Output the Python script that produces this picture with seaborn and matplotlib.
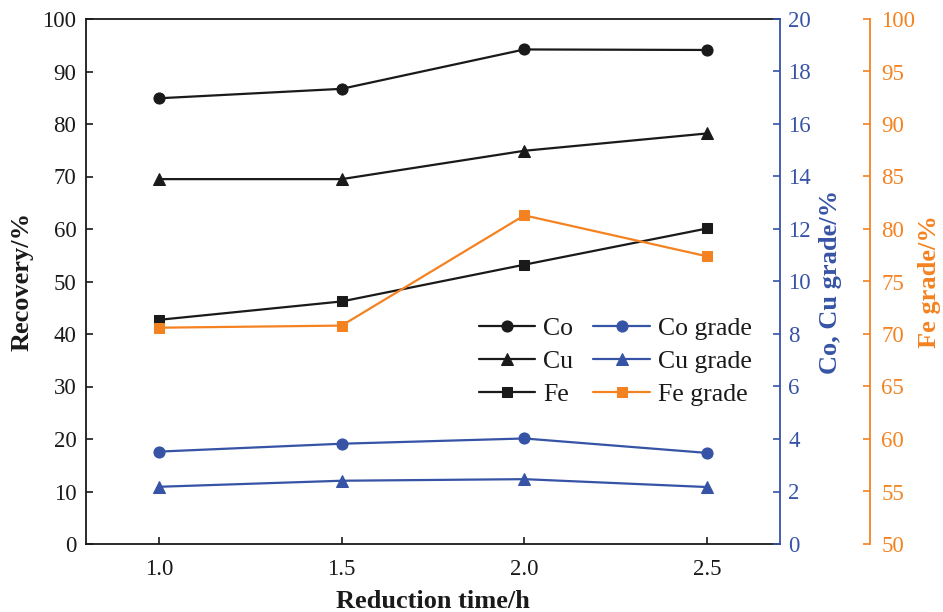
import matplotlib
matplotlib.use("Agg")
import matplotlib.pyplot as plt
import seaborn as sns
import pandas as pd

time_h = [1.0, 1.5, 2.0, 2.5]
co_recovery = [84.9, 86.7, 94.2, 94.1]
cu_recovery = [69.5, 69.5, 74.9, 78.2]
fe_recovery = [42.7, 46.2, 53.2, 60.1]
co_grade = [3.52, 3.82, 4.02, 3.47]
cu_grade = [2.18, 2.41, 2.47, 2.17]
fe_grade = [70.6, 70.8, 81.3, 77.4]

sns.set_style("ticks")
plt.rcParams['font.family'] = ['Liberation Serif', 'DejaVu Serif']

BLACK = "#1a1a1a"
BLUE = "#3653a5"
ORANGE = "#f58220"

W, H = 943, 612
L, R, T, B = 86, 780, 19, 544
AW, AH = R - L, B - T

fig = plt.figure(figsize=(W / 100, H / 100), dpi=100)
ax = fig.add_axes([L / W, 1 - B / H, AW / W, AH / H])
ax2 = ax.twinx()
ax3 = ax.twinx()
ax3.spines['right'].set_position(('axes', 1 + 90 / AW))

lw = 1.6
ms = 8
df = pd.DataFrame({"t": time_h, "co": co_recovery, "cu": cu_recovery, "fe": fe_recovery,
                   "cog": co_grade, "cug": cu_grade, "feg": fe_grade})

sns.lineplot(data=df, x="t", y="co", ax=ax, color=BLACK, marker="o", markersize=ms, lw=lw,
             markeredgecolor=BLACK, label="Co", legend=False)
sns.lineplot(data=df, x="t", y="cu", ax=ax, color=BLACK, marker="^", markersize=ms + 1, lw=lw,
             markeredgecolor=BLACK, label="Cu", legend=False)
sns.lineplot(data=df, x="t", y="fe", ax=ax, color=BLACK, marker="s", markersize=ms - 0.5, lw=lw,
             markeredgecolor=BLACK, label="Fe", legend=False)
sns.lineplot(data=df, x="t", y="cog", ax=ax2, color=BLUE, marker="o", markersize=ms, lw=lw,
             markeredgecolor=BLUE, label="Co grade", legend=False)
sns.lineplot(data=df, x="t", y="cug", ax=ax2, color=BLUE, marker="^", markersize=ms + 1, lw=lw,
             markeredgecolor=BLUE, label="Cu grade", legend=False)
sns.lineplot(data=df, x="t", y="feg", ax=ax3, color=ORANGE, marker="s", markersize=ms - 0.5, lw=lw,
             markeredgecolor=ORANGE, label="Fe grade", legend=False)

ax.set_xlim(0.8, 2.7)
ax.set_ylim(0, 100)
ax2.set_ylim(0, 20)
ax3.set_ylim(50, 100)
ax.set_xticks([1.0, 1.5, 2.0, 2.5])
ax.set_xticklabels(["1.0", "1.5", "2.0", "2.5"])
ax.set_yticks(range(0, 101, 10))
ax2.set_yticks(range(0, 21, 2))
ax3.set_yticks(range(50, 101, 5))

fs = 16.5
ax.tick_params(axis='both', direction='in', length=5, width=1.2, labelsize=fs, colors=BLACK)
ax.tick_params(axis='y', pad=7)
ax.tick_params(axis='x', pad=11)
ax2.tick_params(axis='y', direction='in', length=5, width=1.2, labelsize=fs, colors=BLUE, pad=6)
ax3.tick_params(axis='y', direction='in', length=5, width=1.2, labelsize=fs, colors=ORANGE, pad=8)

for a in (ax, ax2, ax3):
    for s in a.spines.values():
        s.set_linewidth(1.3)
for s in ('left', 'bottom', 'top'):
    ax.spines[s].set_color(BLACK)
ax.spines['right'].set_visible(False)
for a, c in ((ax2, BLUE), (ax3, ORANGE)):
    a.spines['right'].set_color(c)
    for s in ('top', 'left', 'bottom'):
        a.spines[s].set_visible(False)

lfs = 19
ax.set_xlabel("Reduction time/h", fontsize=lfs, fontweight='bold', color=BLACK)
ax.set_ylabel("Recovery/%", fontsize=lfs, fontweight='bold', color=BLACK)
ax2.set_ylabel("Co, Cu grade/%", fontsize=lfs, fontweight='bold', color=BLUE, rotation=90)
ax3.set_ylabel("Fe grade/%", fontsize=lfs, fontweight='bold', color=ORANGE, rotation=90)
ax.xaxis.set_label_coords(0.5, (B - 590) / AH)
ax.yaxis.set_label_coords((34 - L) / AW, 0.5)
ax2.yaxis.set_label_coords(1 + 39 / AW, 0.5)
ax3.yaxis.set_label_coords(1 + 138 / AW, 0.5)

handles, labels = [], []
for a in (ax, ax2, ax3):
    h, l = a.get_legend_handles_labels()
    handles += h
    labels += l
leg = ax.legend(handles, labels, ncol=2, frameon=False, fontsize=18.5,
                loc='center', bbox_to_anchor=((615 - L) / AW, 1 - (361.5 - T) / AH),
                handlelength=2.2, columnspacing=0.8, handletextpad=0.3, labelspacing=0.4,
                borderpad=0)
for t in leg.get_texts():
    t.set_color(BLACK)

fig.savefig("out.png", dpi=100)
